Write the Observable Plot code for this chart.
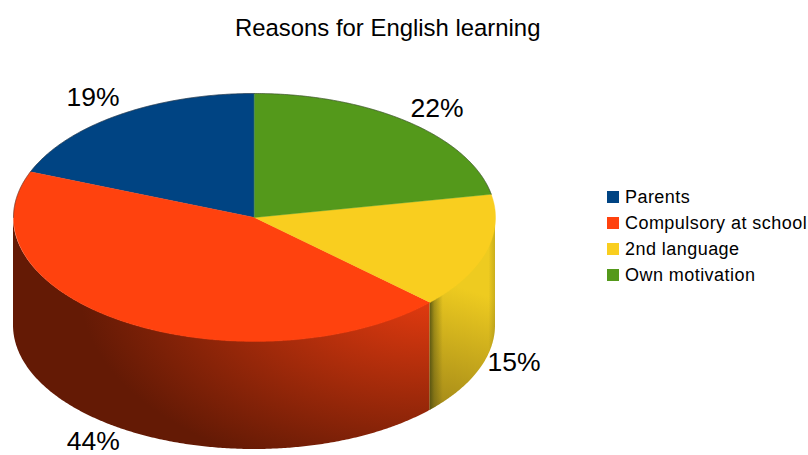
<!DOCTYPE html>
<html>
<head>
<meta charset="utf-8">
<script src="https://cdn.jsdelivr.net/npm/d3@7"></script>
<script src="https://cdn.jsdelivr.net/npm/@observablehq/plot@0.6"></script>
<style>
  html, body { margin: 0; padding: 0; background: #fff; }
  body { position: relative; width: 808px; height: 455px; overflow: hidden; font-family: "Liberation Sans", Arial, sans-serif; color: #000; }
  #title { height: 44px; padding: 13px 0 0 235px; box-sizing: border-box; font-size: 23.9px; line-height: 30px; }
  #legend { position: absolute; left: 607px; top: 184px; font-size: 18px; letter-spacing: 0.45px; }
  #legend div { display: flex; align-items: center; height: 26px; white-space: nowrap; }
  #legend i { display: block; width: 12px; height: 12px; margin-right: 6px; }
  svg { display: block; }
</style>
</head>
<body>
<div id="title">Reasons for English learning</div>
<div id="chart"></div>
<div id="legend"></div>
<script>
// Survey answers, in drawing order counter-clockwise from twelve o'clock.
const categories = ["Parents", "Compulsory at school", "2nd language", "Own motivation"];
const shares = [19, 44, 15, 22];
const colors = ["#004483", "#ff420e", "#f9ce1f", "#54991b"];

// Disc layout in pixels; the x and y scales map a unit circle onto this ellipse.
const width = 808, height = 411;
const cx = 254, cy = 173, rx = 241, ry = 124, wall = 108;
const depth = wall / ry;
const rad = Math.PI / 180;

// Turn the shares into start and end angles.
let cursor = 90;
const slices = categories.map((name, i) => {
  const start = cursor;
  cursor += shares[i] * 3.6;
  return {name, share: shares[i], start, end: cursor};
});

const arc = (a0, a1) => d3.range(a0, a1, 0.5).concat(a1).map((a) => ({
  x: Math.cos(a * rad),
  y: Math.sin(a * rad),
  top: Math.sin(a * rad),
  bottom: Math.sin(a * rad) - depth
}));

// Flat top faces: a fan from the centre around each slice's arc.
const faces = slices.flatMap((s) =>
  [{x: 0, y: 0}, ...arc(s.start, s.end)].map((p) => ({...p, name: s.name}))
);

// Front walls only: the part of the rim that faces the viewer.
const redSlice = slices[1], yellowSlice = slices[2];
const redWall = arc(180, redSlice.end);
const yellowWall = arc(yellowSlice.start, 360);

// Percentage labels: placed from the slice's mid-angle, pushed outward in pixels.
const labelShift = [[-26, -17], [-32, 11], [28, 2], [29, -13]];
const labels = slices.map((s, i) => {
  const mid = (s.start + s.end) / 2;
  const front = (i === 1 || i === 2) ? depth : 0;
  return {
    x: Math.cos(mid * rad) + labelShift[i][0] / rx,
    y: Math.sin(mid * rad) - front - labelShift[i][1] / ry,
    text: `${s.share}%`
  };
});

// Shading for the walls, defined in the chart's own coordinate space.
function gradients(index, {x, y}) {
  const defs = d3.create("svg:defs");
  const addStops = (node, stops) => stops.forEach(([offset, color, opacity]) =>
    node.append("stop").attr("offset", offset).attr("stop-color", color).attr("stop-opacity", opacity ?? 1));
  const edgeX = x(Math.cos(redSlice.end * rad));
  const edgeY = y(Math.sin(redSlice.end * rad));

  const red = defs.append("radialGradient").attr("id", "red-wall")
    .attr("gradientUnits", "userSpaceOnUse")
    .attr("cx", 0).attr("cy", 0).attr("r", 1)
    .attr("gradientTransform", `translate(${edgeX},${edgeY - 12}) scale(350,195)`);
  addStops(red, [[0, "#e83c10"], [1, "#641a05"]]);

  const yellow = defs.append("linearGradient").attr("id", "yellow-wall")
    .attr("gradientUnits", "userSpaceOnUse")
    .attr("x1", edgeX + 45).attr("y1", edgeY - 10)
    .attr("x2", edgeX + 5).attr("y2", edgeY + wall + 5);
  addStops(yellow, [[0, "#eecb20"], [1, "#a08618"]]);

  const band = defs.append("linearGradient").attr("id", "yellow-edges")
    .attr("gradientUnits", "userSpaceOnUse")
    .attr("x1", edgeX).attr("y1", 0)
    .attr("x2", x(1)).attr("y2", 0);
  addStops(band, [[0, "#4a4a10", 0.85], [0.07, "#4a4a10", 0.4], [0.2, "#4a4a10", 0], [0.9, "#4a4a10", 0], [1, "#4a4a10", 0.22]]);
  return defs.node();
}

const chart = Plot.plot({
  width, height,
  margin: 0,
  x: {axis: null, domain: [-cx / rx, (width - cx) / rx], range: [0, width]},
  y: {axis: null, domain: [cy / ry, (cy - height) / ry], range: [0, height]},
  color: {domain: categories, range: colors},
  style: {background: "transparent", overflow: "visible"},
  marks: [
    gradients,
    Plot.area(redWall, {x1: "x", y1: "top", y2: "bottom", fill: "url(#red-wall)"}),
    Plot.area(yellowWall, {x1: "x", y1: "top", y2: "bottom", fill: "url(#yellow-wall)"}),
    Plot.area(yellowWall, {x1: "x", y1: "top", y2: "bottom", fill: "url(#yellow-edges)"}),
    Plot.line(faces, {x: "x", y: "y", z: "name", fill: "name", stroke: "name", strokeWidth: 0.4, curve: "linear-closed"}),
    Plot.line(arc(slices[3].start - 360, 180), {x: "x", y: "y", stroke: "#333", strokeWidth: 0.7, strokeOpacity: 0.7}),
    Plot.text(labels, {
      x: "x", y: "y", text: "text",
      fontSize: 26.5, fontFamily: "Liberation Sans, Arial, sans-serif", fill: "#000"
    })
  ]
});
document.getElementById("chart").append(chart);

// Legend entries use the same colours as the slices.
const legend = d3.select("#legend").selectAll("div").data(categories).join("div");
legend.append("i").style("background", (d) => chart.scale("color").apply(d));
legend.append("span").text((d) => d);
</script>
</body>
</html>
